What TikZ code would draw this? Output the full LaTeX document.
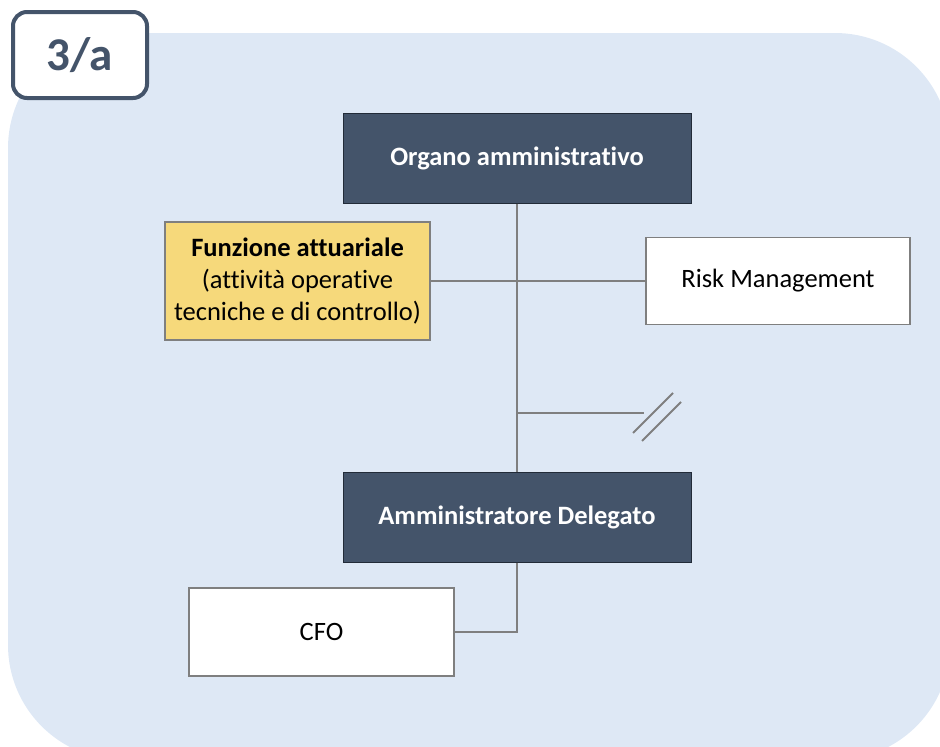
\documentclass[tikz,border=0pt]{standalone}
\usepackage{fontspec}
\setmainfont{Carlito}[Ligatures=NoCommon]
\usepackage{xcolor}
\usetikzlibrary{positioning}
\definecolor{slate}{HTML}{44546A}
\definecolor{slateline}{HTML}{222B38}
\definecolor{paleblue}{HTML}{DEE8F5}
\definecolor{sand}{HTML}{F6D97B}
\definecolor{wire}{HTML}{7F7F7F}

\begin{document}
\begin{tikzpicture}[x=1pt, y=-1pt,
    darkbox/.style={draw=slateline, line width=1pt, fill=slate, text=white,
        font=\fontsize{26.5}{32}\selectfont\bfseries, inner sep=0pt,
        minimum width=348pt, minimum height=90pt},
    whitebox/.style={draw=wire, line width=1.2pt, fill=white, text=black,
        font=\fontsize{26.5}{32}\selectfont, inner sep=0pt,
        minimum width=265pt, minimum height=88pt},
    wireline/.style={draw=wire, line width=2.6pt}]
    \useasboundingbox (0,0) rectangle (940,747);
    \clip (0,0) rectangle (940,747);
    % background panel
    \fill[paleblue, rounded corners=115pt] (8,33) rectangle (950,760);
    % tag
    \node[draw=slate, line width=4pt, fill=white, rounded corners=14pt,
        minimum width=134pt, minimum height=86pt, inner sep=0pt,
        text=slate, font=\fontsize{47}{52}\selectfont\bfseries] (tag) at (80,55) {3/a};
    \node[darkbox] (oa) at (517,158) {Organo amministrativo};
    \node[darkbox] (ad) at (517,517) {Amministratore Delegato};
    \node[whitebox, fill=sand, minimum height=118pt, align=center] (fa) at (297.5,281)
        {\textbf{Funzione attuariale}\\(attività operative\\tecniche e di controllo)};
    \node[whitebox, minimum width=264pt, minimum height=87pt] (rm) at (778,281) {Risk Management};
    \node[whitebox] (cfo) at (321.5,632) {CFO};
    \coordinate (j) at (517,413);
    \coordinate (brk) at (644,413);
    \draw[wireline]
        (oa) -- (ad)
        (fa.east) -- (fa.east -| rm.west)
        (j) -- (brk)
        (ad.south) |- (cfo.east);
    \draw[wire, line width=2pt] (633,433) -- (673,393) (642,441) -- (681,402);
\end{tikzpicture}
\end{document}
